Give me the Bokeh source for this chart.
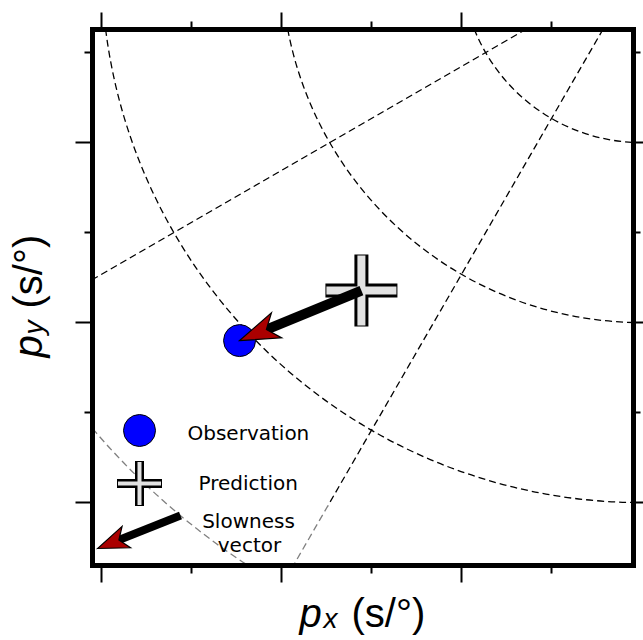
import math
from bokeh.plotting import figure
from bokeh.models import FixedTicker, LinearAxis, Label, Range1d, CustomJSTickFormatter
from bokeh.embed import file_html
from bokeh.resources import INLINE

# ---------------- data (slowness space, s/deg) ----------------
circle_radii = [1, 2, 3, 4]            # constant |p| circles around origin
ray_angles_deg = [210, 240]            # constant back-azimuth lines from origin
obs_x = [-2.233]                       # observed slowness px
obs_y = [-2.100]                       # observed slowness py
pred_x = [-1.556]                      # predicted slowness px
pred_y = [-1.822]                      # predicted slowness py
x_major = [-3, -2, -1]
x_minor = [-2.5, -1.5, -0.5]
y_major = [-3, -2, -1]
y_minor = [-2.5, -1.5, -0.5]
x_lim = [-3.05, -0.042]
y_lim = [-3.352, -0.369]
legend_labels = ["Observation", "Prediction", "Slowness", "vector"]

# ---------------- layout helpers (canvas pixel -> data) ----------------
W_PX, H_PX = 643, 640
PXU = 180.0
def dx(px):
    return x_lim[0] + (px - 92) / PXU
def dy(py):
    return y_lim[1] - (py - 28.5) / PXU

x0, x1 = x_lim
y0, y1 = y_lim

p = figure(width=W_PX, height=H_PX,
           x_range=Range1d(dx(0), dx(W_PX)), y_range=Range1d(dy(H_PX), dy(0)),
           output_backend="svg", toolbar_location=None,
           min_border_left=0, min_border_right=0, min_border_top=0, min_border_bottom=0)
p.xgrid.visible = False
p.ygrid.visible = False
p.outline_line_color = None
p.background_fill_color = "white"
p.border_fill_color = "white"

top_ax = LinearAxis()
right_ax = LinearAxis()
p.add_layout(top_ax, "above")
p.add_layout(right_ax, "right")

def style_axis(ax, major, minor, mout, nout, loc, bounds):
    ax.fixed_location = loc
    ax.bounds = bounds
    ax.ticker = FixedTicker(ticks=major, minor_ticks=minor)
    ax.axis_line_color = "black"
    ax.axis_line_width = 5
    ax.axis_line_cap = "square"
    ax.major_tick_in = 0
    ax.minor_tick_in = 0
    ax.major_tick_out = mout
    ax.minor_tick_out = nout
    ax.major_tick_line_width = 2
    ax.minor_tick_line_width = 2
    ax.major_tick_line_color = "black"
    ax.minor_tick_line_color = "black"
    ax.formatter = CustomJSTickFormatter(code="return '';")
    ax.major_label_text_font_size = "0px"
    ax.major_label_standoff = 0

style_axis(p.below[0], x_major, x_minor, 17, 8, y0, (x0, x1))
style_axis(top_ax, x_major, x_minor, 17, 8, y1, (x0, x1))
style_axis(p.left[0], y_major, y_minor, 17, 8, x0, (y0, y1))
style_axis(right_ax, y_major, y_minor, 12, 7, x1, (y0, y1))

# ---------------- slowness grid, limited to the axes box ----------------
DASH = "7 4"
def inside(x, y):
    return x0 - 1e-9 <= x <= x1 + 1e-9 and y0 - 1e-9 <= y <= y1 + 1e-9

arc_r, arc_a, arc_b = [], [], []
for r in circle_radii:
    cands = [math.pi, 1.5 * math.pi]
    for xv in (x0, x1):
        if abs(xv) <= r:
            a = math.acos(xv / r)
            cands += [a, 2 * math.pi - a]
    for yv in (y0, y1):
        if abs(yv) <= r:
            a = math.asin(yv / r)
            cands += [a % (2 * math.pi), (math.pi - a) % (2 * math.pi)]
    cands = sorted(c for c in cands if math.pi <= c <= 1.5 * math.pi)
    for a, b in zip(cands[:-1], cands[1:]):
        if b - a < 1e-9:
            continue
        m = 0.5 * (a + b)
        if inside(r * math.cos(m), r * math.sin(m)):
            arc_r.append(r)
            arc_a.append(a)
            arc_b.append(b)
p.arc(x=[0] * len(arc_r), y=[0] * len(arc_r), radius=arc_r,
      start_angle=arc_a, end_angle=arc_b, direction="anticlock",
      line_color="black", line_width=1.3, line_dash=DASH)

sx0, sy0, sx1, sy1 = [], [], [], []
for ang in ray_angles_deg:
    c, s = math.cos(math.radians(ang)), math.sin(math.radians(ang))
    tlo = max(x1 / c, y1 / s)
    thi = min(x0 / c, y0 / s)
    if thi > tlo:
        sx0.append(tlo * c); sy0.append(tlo * s)
        sx1.append(thi * c); sy1.append(thi * s)
p.segment(x0=sx0, y0=sy0, x1=sx1, y1=sy1, line_color="black", line_width=1.3, line_dash=DASH)

# ---------------- arrow helper ----------------
HEAD_RED = "#aa0000"
def draw_arrow(tx, ty, hx, hy, shaft_w, L, W, notch):
    L, W, notch = L / PXU, W / PXU, notch / PXU
    ux, uy = hx - tx, hy - ty
    d = math.hypot(ux, uy)
    ux, uy = ux / d, uy / d
    nx, ny = -uy, ux
    bx, by = hx - L * ux, hy - L * uy
    p.segment(x0=[tx], y0=[ty], x1=[hx - notch * ux], y1=[hy - notch * uy],
              line_color="black", line_width=shaft_w, line_cap="butt")
    p.patches(xs=[[hx, bx + W * nx, hx - notch * ux, bx - W * nx]],
              ys=[[hy, by + W * ny, hy - notch * uy, by - W * ny]],
              fill_color=HEAD_RED, line_color="black", line_width=1.2, line_join="miter")

# ---------------- observation / prediction / slowness vector ----------------
p.scatter(x=obs_x, y=obs_y, marker="circle", size=32, fill_color="#0000ff",
          line_color="black", line_width=1)
p.scatter(x=pred_x, y=pred_y, marker="cross", size=72, line_color="black", line_width=14)
p.scatter(x=pred_x, y=pred_y, marker="cross", size=70, line_color="#e2e2e2", line_width=8)
draw_arrow(pred_x[0], pred_y[0], obs_x[0], obs_y[0], 10, 40, 13.5, 29)

# ---------------- legend ----------------
p.quad(left=[x0], right=[dx(328)], top=[dy(403)], bottom=[y0],
       fill_color="white", fill_alpha=0.5, line_color=None)
p.scatter(x=[dx(139)], y=[dy(430)], marker="circle", size=32, fill_color="#0000ff",
          line_color="black", line_width=1)
p.scatter(x=[dx(139)], y=[dy(483)], marker="cross", size=45, line_color="black", line_width=9)
p.scatter(x=[dx(139)], y=[dy(483)], marker="cross", size=43, line_color="#e2e2e2", line_width=4)
draw_arrow(dx(180), dy(515), dx(97), dy(548), 8, 31, 11.5, 23)

LEG_FONT = "DejaVu Sans"
for txt, px_, py_, al in [(legend_labels[0], 187, 432, "left"),
                          (legend_labels[1], 198, 482, "left"),
                          (legend_labels[2], 248, 520, "center"),
                          (legend_labels[3], 249, 544, "center")]:
    p.add_layout(Label(x=dx(px_), y=dy(py_), text=txt, text_font=LEG_FONT,
                       text_font_size="20px", text_align=al, text_baseline="middle",
                       text_color="black"))

# ---------------- axis titles ----------------
AX_FONT = "Liberation Sans"
def lab(px_, py_, txt, size, style, angle=0):
    p.add_layout(Label(x=dx(px_), y=dy(py_), text=txt, text_font=AX_FONT,
                       text_font_size=size, text_font_style=style, text_align="left",
                       text_baseline="alphabetic", angle=angle, angle_units="deg",
                       text_color="black"))

lab(299, 612, "p", "40px", "italic")
lab(323, 618, "x", "28px", "italic")
lab(351, 612, "(s/°)", "40px", "normal")

lab(27, 357, "p", "40px", "italic", 90)
lab(33, 334, "y", "28px", "italic", 90)
lab(27, 308, "(s/°)", "40px", "normal", 90)

open("out.html", "w").write(file_html(p, INLINE))
